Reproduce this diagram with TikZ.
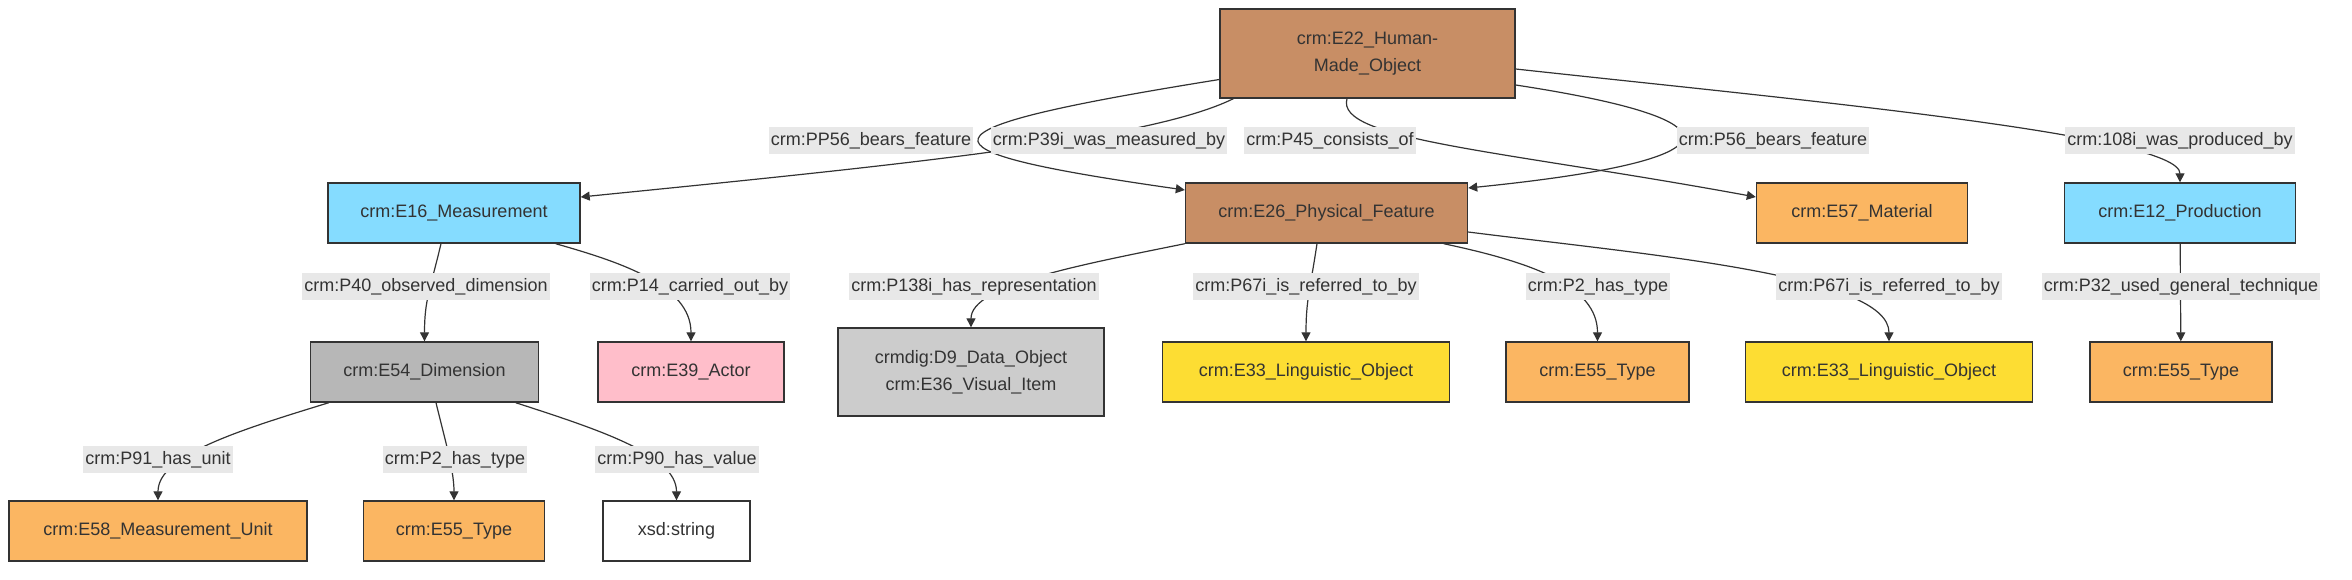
\documentclass[tikz,border=0pt]{standalone}
\usepackage{fontspec}
\setmainfont{Liberation Sans}
\usetikzlibrary{arrows.meta,calc}
\definecolor{crmbrown}{HTML}{C88E65}
\definecolor{crmblue}{HTML}{85DCFF}
\definecolor{crmorange}{HTML}{FBB662}
\definecolor{crmgrey}{HTML}{B7B7B7}
\definecolor{crmpink}{HTML}{FFBECA}
\definecolor{crmlight}{HTML}{CCCCCC}
\definecolor{crmyellow}{HTML}{FDDD33}
\definecolor{relgrey}{HTML}{E8E8E8}
\definecolor{ink}{HTML}{333333}
\tikzset{
    entity/.style={draw=ink, line width=0.7pt, text=ink, minimum height=30pt, inner sep=0pt,
        align=center, font=\fontsize{9}{13.5}\selectfont},
    rel/.style={fill=relgrey, text=ink, inner xsep=1pt, inner ysep=2.25pt, text height=7pt,
        text depth=2pt, font=\fontsize{9}{11}\selectfont},
    link/.style={draw=ink, line width=0.6pt, -{Triangle[length=4.5pt,width=4.5pt]}},
}
\begin{document}
\begin{tikzpicture}[x=0.5pt,y=-0.5pt]
    \useasboundingbox (0,0) rectangle (2352,579);

    \node[entity,fill=crmbrown,minimum width=147.5pt,minimum height=44.5pt] (obj) at (1367.5,53.5) {crm:E22\_Human-\\Made\_Object};
    \node[entity,fill=crmblue,minimum width=126pt] (meas) at (454,213) {crm:E16\_Measurement};
    \node[entity,fill=crmbrown,minimum width=141pt] (feat) at (1326.5,213) {crm:E26\_Physical\_Feature};
    \node[entity,fill=crmorange,minimum width=105.5pt] (mat) at (1862,213) {crm:E57\_Material};
    \node[entity,fill=crmblue,minimum width=115.5pt] (prod) at (2180,213) {crm:E12\_Production};

    \node[entity,fill=crmgrey,minimum width=114pt] (dim) at (424.5,372) {crm:E54\_Dimension};
    \node[entity,fill=crmpink,minimum width=93pt] (actor) at (691,372) {crm:E39\_Actor};
    \node[entity,fill=crmlight,minimum width=133pt,minimum height=44pt] (repr) at (971,372) {crmdig:D9\_Data\_Object\\crm:E36\_Visual\_Item};
    \node[entity,fill=crmyellow,minimum width=143.5pt] (ling1) at (1306,372) {crm:E33\_Linguistic\_Object};
    \node[entity,fill=crmorange,minimum width=91.5pt] (type2) at (1597.5,372) {crm:E55\_Type};
    \node[entity,fill=crmyellow,minimum width=143.5pt] (ling2) at (1889,372) {crm:E33\_Linguistic\_Object};
    \node[entity,fill=crmorange,minimum width=91pt] (type3) at (2181,372) {crm:E55\_Type};

    \node[entity,fill=crmorange,minimum width=149pt] (unit) at (158,531) {crm:E58\_Measurement\_Unit};
    \node[entity,fill=crmorange,minimum width=90.5pt] (type1) at (454,531) {crm:E55\_Type};
    \node[entity,fill=white,minimum width=73.5pt] (val) at (676.5,531) {xsd:string};

    % links from the object
    \draw[link] ($(obj.south west)+(14,0)$) .. controls (1150,140) and (900,165) .. ($(meas.east)+(0,-16)$);
    \draw[link] ($(obj.west)+(0,26)$) .. controls (905,130) and (905,150) .. ($(feat.west)+(0,-23)$);
    \draw[link] ($(obj.south)+(-20.5,0)$) .. controls (1335,140) and (1500,150) .. ($(mat.west)+(0,-16)$);
    \draw[link] ($(obj.east)+(0,31.5)$) .. controls (1745,120) and (1745,160) .. ($(feat.east)+(0,-25)$);
    \draw[link] ($(obj.east)+(0,15.5)$) .. controls (1800,100) and (2180,135) .. (prod.north);

    % second level
    \draw[link] ($(meas.south)+(-13,0)$) .. controls (430,290) and (424.5,300) .. (dim.north);
    \draw[link] ($(meas.south east)+(-25,0)$) .. controls (620,262) and (691,285) .. (actor.north);
    \draw[link] (feat.south west) .. controls (1080,265) and (971,285) .. (repr.north);
    \draw[link] ($(feat.south)+(-9.5,0)$) .. controls (1310,290) and (1306,300) .. (ling1.north);
    \draw[link] ($(feat.south east)+(-24.5,0)$) .. controls (1530,262) and (1597.5,285) .. (type2.north);
    \draw[link] ($(feat.east)+(0,19)$) .. controls (1650,255) and (1889,275) .. (ling2.north);
    \draw[link] (prod) -- (type3);

    % third level
    \draw[link] ($(dim.south west)+(19,0)$) .. controls (240,430) and (158,455) .. (unit.north);
    \draw[link] ($(dim.south)+(11.5,0)$) .. controls (445,440) and (454,470) .. (type1.north);
    \draw[link] ($(dim.south east)+(-23.5,0)$) .. controls (600,430) and (676.5,455) .. (val.north);

    % property labels
    \foreach \n/\x/\y/\t in {r1/871/140/crm:PP56\_bears\_feature, r2/1109/140/crm:P39i\_was\_measured\_by,
            r3/1330/140/crm:P45\_consists\_of, r4/1773/140/crm:P56\_bears\_feature,
            r5/2180/140/crm:108i\_was\_produced\_by,
            r6/426/286/crm:P40\_observed\_dimension, r7/690/286/crm:P14\_carried\_out\_by,
            r8/974/286/crm:P138i\_has\_representation, r9/1306/286/crm:P67i\_is\_referred\_to\_by,
            r10/1598/286/crm:P2\_has\_type, r11/1889/286/crm:P67i\_is\_referred\_to\_by,
            r12/2181/286/crm:P32\_used\_general\_technique,
            r13/158/459/crm:P91\_has\_unit, r14/455/459/crm:P2\_has\_type, r15/677/459/crm:P90\_has\_value} {
            \node[rel] (\n) at (\x,\y) {\t};
        }
\end{tikzpicture}
\end{document}
